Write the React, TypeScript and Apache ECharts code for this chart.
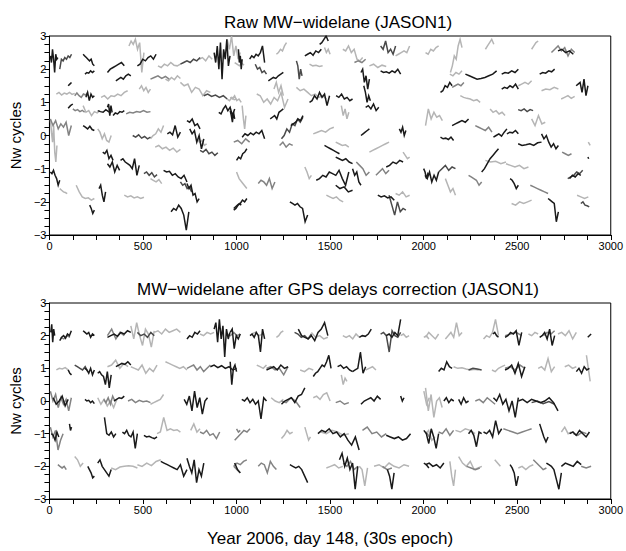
import React, { useEffect, useRef } from "react";
import * as echarts from "echarts";

// Segment: [start epoch, end epoch, shade index, values sampled evenly across the segment]
type Seg = [number, number, number, number[]];

const shades = ["#1a1a1a", "#4a4a4a", "#838383", "#b5b5b5"];

const xTicks = [0, 500, 1000, 1500, 2000, 2500, 3000];
const yTicks = [-3, -2, -1, 0, 1, 2, 3];

const titleRaw = "Raw MW\u2212widelane (JASON1)";
const titleCorr = "MW\u2212widelane after GPS delays correction (JASON1)";
const yName = "Nw cycles";
const xName = "Year 2006, day 148, (30s epoch)";

const rawSegs: Seg[] = [
  [5, 45, 0, [2.4, 2.2, 2.6, 2.3, 1.9, 2.45, 2.3, 2.35]],
  [55, 118, 1, [2.0, 2.3, 2.25, 2.35, 2.3, 2.4, 2.35, 2.45]],
  [180, 240, 0, [2.45, 2.4, 2.35, 2.3, 2.25, 2.3, 2.15, 2.1]],
  [190, 240, 0, [1.85, 1.9, 1.88, 1.95, 1.9, 1.95]],
  [100, 118, 0, [1.5, 1.55, 1.6]],
  [37, 135, 3, [1.25, 1.3, 1.22, 1.28, 1.25, 1.3, 1.24, 1.27]],
  [135, 205, 2, [1.2, 1.28, 1.2, 1.15, 1.25, 1.22, 1.3]],
  [195, 240, 0, [1.15, 1.3, 1.05, 1.25, 1.15, 1.2]],
  [276, 418, 3, [1.15, 1.2, 1.1, 1.2, 1.18, 1.25, 1.2, 1.3, 1.35]],
  [310, 335, 0, [0.85, 0.95, 0.6, 0.9, 0.7]],
  [100, 125, 0, [0.82, 0.9, 0.95]],
  [125, 188, 2, [0.8, 0.75, 0.78, 0.72, 0.76, 0.7]],
  [180, 270, 3, [0.9, 0.7, 0.75, 0.6, 0.72, 0.68, 0.75]],
  [258, 330, 0, [0.75, 0.72, 0.7, 0.78, 0.72, 0.68]],
  [340, 400, 0, [0.6, 0.68, 0.65, 0.72, 0.7, 0.75]],
  [410, 540, 2, [0.65, 0.7, 0.68, 0.72, 0.7, 0.75, 0.7, 0.72]],
  [5, 117, 2, [0.5, 0.3, 0.45, 0.2, 0.35, 0.25, 0.4, 0.0, 0.3]],
  [5, 40, 3, [0.5, 0.1, -0.2, 0.3, -0.5, -0.8, -0.3]],
  [5, 55, 0, [-1.1, -1.15, -1.05, -1.2, -1.3, -1.5, -1.35]],
  [55, 95, 3, [-1.6, -1.65, -1.7, -1.72, -1.75]],
  [180, 240, 0, [0.3, 0.25, 0.2, 0.28, 0.18, 0.15]],
  [258, 330, 3, [0.2, 0.1, -0.1, 0.05, -0.15, -0.2, 0.0]],
  [285, 340, 0, [-0.5, -0.55, -0.45, -0.7, -0.6, -0.75]],
  [445, 540, 1, [0.0, -0.05, 0.02, -0.08, -0.03, -0.1, -0.05]],
  [540, 610, 3, [-0.1, 0.0, 0.05, 0.2, 0.1, 0.3]],
  [565, 700, 3, [-0.35, -0.3, -0.4, -0.35, -0.45, -0.38, -0.5, -0.42]],
  [630, 700, 0, [0.05, 0.1, 0.02, 0.3, -0.05, 0.1]],
  [735, 805, 0, [0.45, 0.4, 0.5, 0.3, 0.35, 0.2]],
  [750, 825, 0, [0.2, 0.05, 0.15, -0.2, 0.0, -0.4, -0.1]],
  [805, 900, 1, [-0.45, -0.5, -0.42, -0.55, -0.5, -0.6, -0.52]],
  [790, 840, 3, [-0.1, -0.2, -0.15, -0.3, -0.25]],
  [905, 990, 0, [0.7, 0.65, 0.8, 0.9, 0.75, 0.85, 0.6, 0.8]],
  [380, 480, 0, [-0.75, -0.7, -0.8, -0.85, -0.9, -1.0, -0.7, -1.2, -0.9]],
  [310, 375, 0, [-0.85, -0.95, -0.8, -1.1, -0.9, -1.05]],
  [505, 575, 1, [-1.15, -1.1, -1.2, -1.12, -1.25, -1.18]],
  [540, 600, 3, [-1.3, -1.35, -1.4, -1.33, -1.45]],
  [610, 735, 0, [-1.05, -1.1, -1.08, -1.2, -1.15, -1.25, -1.3, -1.2, -1.4]],
  [735, 800, 0, [-1.45, -1.6, -1.5, -1.8, -1.75, -2.0, -1.9]],
  [700, 760, 1, [-1.4, -1.5, -1.45, -1.6, -1.55, -1.7]],
  [400, 505, 3, [-1.8, -1.85, -1.82, -1.88, -1.85, -1.9, -1.86]],
  [143, 240, 3, [-1.5, -1.7, -1.85, -1.9, -1.88, -1.95, -1.9]],
  [215, 240, 0, [-2.1, -2.2, -2.35, -2.25]],
  [265, 300, 0, [-1.6, -1.5, -1.8, -2.0, -1.7]],
  [650, 745, 0, [-2.3, -2.2, -2.25, -2.1, -2.2, -2.4, -2.85, -2.3]],
  [985, 1025, 0, [-2.2, -2.15, -2.1, -2.05, -2.1]],
  [425, 505, 3, [2.7, 2.85, 2.75, 2.9, 2.6, 2.8, 1.9, 2.5]],
  [470, 570, 0, [2.1, 2.15, 2.3, 2.25, 2.35, 2.4, 2.3, 2.45]],
  [310, 400, 0, [1.9, 2.0, 2.05, 2.1, 2.15, 2.2, 2.1]],
  [355, 435, 0, [1.65, 1.7, 1.75, 1.7, 1.8, 1.85, 1.8]],
  [580, 700, 3, [2.1, 2.05, 2.15, 2.1, 2.2, 2.12, 2.1, 2.15]],
  [620, 700, 3, [1.7, 1.65, 1.75, 1.68, 1.8, 1.72]],
  [700, 805, 1, [2.15, 2.2, 2.25, 2.2, 2.3, 2.25, 2.35]],
  [800, 870, 3, [2.3, 2.35, 2.25, 2.4, 2.3]],
  [880, 965, 0, [2.5, 2.2, 2.7, 2.0, 2.8, 1.7, 2.6, 2.3, 2.9, 2.1, 2.4]],
  [950, 1020, 3, [2.9, 2.6, 3.0, 2.4, 2.7, 2.3, 2.5]],
  [700, 860, 3, [1.6, 1.5, 1.55, 1.3, 1.45, 1.4, 1.2, 1.35, 1.3]],
  [825, 950, 1, [1.2, 1.25, 1.18, 1.22, 1.15, 1.2, 1.1]],
  [950, 1000, 3, [1.1, 1.05, 1.15, 1.08, 1.1]],
  [540, 640, 2, [1.7, 1.75, 1.8, 1.72, 1.78, 1.7]],
  [480, 540, 3, [1.4, 1.5, 1.35, 1.45, 1.3, 1.4]],
  [1010, 1030, 0, [2.6, 2.2, 2.4, 2.0, 2.3]],
  [990, 1040, 3, [2.2, 2.15, 2.1, 2.18, 2.12]],
  [1070, 1150, 0, [2.3, 2.4, 2.35, 2.45, 2.4, 2.5, 2.7, 2.2]],
  [1100, 1160, 1, [2.15, 2.0, 2.05, 1.9, 1.95, 1.85]],
  [1213, 1267, 3, [2.45, 2.5, 2.6, 2.55, 2.7, 2.8]],
  [1170, 1250, 0, [1.65, 1.7, 1.75, 1.72, 1.8, 1.85, 1.9]],
  [1320, 1350, 1, [2.25, 2.1, 1.7, 2.0, 1.8]],
  [1365, 1453, 0, [2.4, 2.45, 2.5, 2.42, 2.55, 2.5, 2.6]],
  [1444, 1490, 0, [2.75, 2.8, 2.9, 3.0, 2.85]],
  [1470, 1500, 3, [2.65, 2.5, 2.6, 2.45]],
  [1390, 1460, 3, [2.15, 2.1, 2.12, 2.08, 2.1]],
  [1568, 1674, 3, [2.6, 2.55, 2.7, 2.5, 2.6, 2.3, 2.25, 2.35]],
  [1630, 1690, 2, [2.2, 2.25, 2.2, 2.3]],
  [1770, 1850, 1, [2.7, 2.6, 2.85, 2.5, 2.6, 2.45, 2.7]],
  [1850, 1925, 3, [2.4, 2.45, 2.5, 2.55, 2.5, 2.7]],
  [1710, 1800, 3, [2.1, 2.15, 2.05, 2.12, 2.08]],
  [1770, 1877, 0, [1.95, 1.9, 1.92, 1.88, 1.95, 1.9, 2.0, 1.85]],
  [1665, 1710, 0, [1.9, 2.0, 1.6, 1.8, 1.4, 1.7]],
  [966, 1025, 3, [1.15, 1.1, 1.2, 1.05, 1.1, 1.0]],
  [1108, 1275, 3, [1.25, 1.2, 1.0, 1.1, 0.95, 1.15, 1.05, 1.3, 0.85, 1.1]],
  [1200, 1250, 3, [1.4, 1.6, 1.3, 1.5, 1.2]],
  [1320, 1480, 3, [1.45, 1.35, 1.4, 1.3, 1.2, 1.25, 1.15, 1.2, 1.1]],
  [1390, 1497, 0, [1.0, 1.05, 1.2, 1.1, 1.3, 1.15, 1.25, 0.9, 1.2]],
  [1532, 1620, 0, [1.2, 1.15, 1.25, 1.1, 1.15, 1.05, 1.1]],
  [1560, 1600, 3, [0.9, 0.6, 0.8, 0.5, 0.7]],
  [1680, 1715, 0, [1.5, 1.3, 1.0, 1.2, 1.05]],
  [1690, 1760, 0, [0.85, 0.9, 0.8, 0.95, 0.75, 0.85]],
  [966, 990, 0, [0.75, 0.6, 0.4, 0.7, 0.5]],
  [1180, 1250, 0, [0.5, 0.55, 0.6, 0.5, 0.7, 0.75, 0.8]],
  [1030, 1050, 3, [0.9, 0.5, 0.2, 0.6]],
  [1030, 1150, 0, [-0.05, 0.05, 0.0, 0.08, 0.02, 0.1, 0.05, 0.15, -0.1]],
  [985, 1070, 2, [-0.2, -0.15, -0.25, -0.1, -0.2]],
  [1000, 1055, 0, [-0.75, -0.65, -0.7, -0.55, -0.5, -0.4]],
  [1240, 1355, 1, [-0.1, 0.0, 0.2, 0.1, 0.35, 0.3, 0.5, 0.4, 0.55]],
  [1290, 1355, 0, [0.3, 0.35, 0.4, 0.5, 0.45, 0.6]],
  [1230, 1300, 2, [-0.3, -0.2, -0.35, -0.25, -0.3]],
  [1410, 1520, 3, [0.05, 0.1, 0.15, 0.1, 0.2, 0.25]],
  [1470, 1550, 0, [-0.3, -0.35, -0.4, -0.45, -0.5, -0.55]],
  [1530, 1620, 0, [-0.65, -0.7, -0.75, -0.7, -0.8, -0.85]],
  [1530, 1600, 3, [-0.2, -0.25, -0.3, -0.28, -0.35]],
  [1665, 1710, 0, [0.0, 0.05, 0.1, 0.15, 0.2]],
  [1710, 1815, 3, [-0.5, -0.45, -0.4, -0.35, -0.3, -0.25, -0.2]],
  [1870, 1905, 0, [0.2, 0.1, 0.25, 0.0, 0.15]],
  [1800, 1890, 0, [-0.95, -0.9, -0.8, -0.85, -0.75, -0.8]],
  [1745, 1815, 2, [-1.2, -1.1, -1.0, -1.15, -1.05]],
  [1890, 1925, 3, [-0.5, -0.6, -0.7, -0.65]],
  [1426, 1600, 0, [-1.35, -1.3, -1.2, -1.25, -1.1, -1.15, -1.2, -1.05, -1.3, -1.5, -1.1]],
  [1620, 1665, 0, [-1.0, -1.2, -1.1, -1.4, -1.5]],
  [1640, 1710, 2, [-0.8, -0.9, -1.0, -1.2, -1.1]],
  [1365, 1400, 3, [-0.95, -1.1, -1.3, -1.2]],
  [1116, 1205, 2, [-1.45, -1.35, -1.4, -1.5, -1.3, -1.6, -1.4]],
  [1000, 1055, 3, [-1.1, -1.3, -1.4, -1.5, -1.6]],
  [985, 1055, 0, [-2.25, -2.2, -2.1, -2.05, -1.95, -2.0, -1.9]],
  [1285, 1380, 0, [-2.0, -2.05, -2.1, -2.05, -2.15, -2.2, -2.6, -2.4]],
  [1530, 1620, 0, [-1.5, -1.6, -1.55, -1.7, -1.65]],
  [1480, 1570, 3, [-1.8, -1.85, -1.9, -1.85, -1.95, -2.0]],
  [1755, 1843, 0, [-1.8, -1.85, -1.82, -1.88, -1.85, -1.95]],
  [1815, 1905, 1, [-1.8, -2.1, -2.4, -2.0, -2.3, -2.2, -2.25]],
  [1850, 1925, 3, [-1.75, -1.8, -1.7, -1.85, -1.8]],
  [2000, 2030, 0, [-1.0, -1.1, -1.3, -1.15, -1.2]],
  [2010, 2080, 3, [2.5, 2.45, 2.6, 2.55, 2.65, 2.7]],
  [2143, 2205, 3, [1.9, 2.1, 2.4, 2.3, 2.7, 2.9, 2.65]],
  [2330, 2375, 3, [2.6, 2.7, 2.8, 2.9, 2.75]],
  [2577, 2612, 3, [2.6, 2.7, 2.8, 2.85]],
  [2683, 2807, 2, [2.5, 2.6, 2.7, 2.55, 2.65, 2.4, 2.6, 2.5]],
  [2718, 2800, 0, [2.55, 2.6, 2.5, 2.55, 2.45]],
  [2223, 2390, 0, [1.85, 1.8, 1.75, 1.7, 1.72, 1.75, 1.8, 1.85, 1.95]],
  [2417, 2506, 0, [1.85, 1.9, 1.88, 1.95, 1.9, 2.0]],
  [2620, 2700, 0, [1.85, 1.9, 1.88, 1.95, 1.92, 2.0]],
  [2140, 2205, 3, [1.85, 1.8, 1.9, 1.85, 1.95]],
  [2090, 2152, 0, [1.3, 1.35, 1.5, 1.45, 1.6, 1.5]],
  [2152, 2215, 2, [1.45, 1.5, 1.55, 1.5, 1.6]],
  [2196, 2302, 3, [1.2, 1.15, 1.12, 1.1, 1.05, 1.08, 1.0]],
  [2417, 2506, 0, [1.4, 1.45, 1.42, 1.5, 1.45, 1.55, 1.4]],
  [2506, 2577, 3, [1.5, 1.55, 1.6, 1.55, 1.65]],
  [2630, 2720, 3, [1.35, 1.4, 1.38, 1.45, 1.4]],
  [2735, 2807, 3, [1.1, 1.15, 1.2, 1.12, 1.18]],
  [2815, 2878, 0, [1.5, 1.55, 1.6, 1.3, 1.7, 1.2, 1.5]],
  [2010, 2100, 3, [0.3, 0.8, 0.5, 0.7, 0.55, 0.6, 0.45]],
  [2090, 2160, 0, [-0.05, -0.1, -0.08, -0.12, -0.05, -0.15]],
  [2152, 2240, 0, [0.3, 0.35, 0.4, 0.45, 0.4, 0.5]],
  [2276, 2365, 2, [0.3, 0.25, 0.2, 0.15, 0.25, 0.1]],
  [2355, 2435, 3, [0.8, 0.7, 0.75, 0.65, 0.7, 0.6]],
  [2373, 2445, 0, [-0.05, 0.0, 0.05, -0.02, 0.1, 0.2]],
  [2445, 2506, 0, [0.05, 0.1, 0.08, 0.15, 0.05]],
  [2505, 2585, 1, [0.78, 0.75, 0.8, 0.72, 0.78, 0.75]],
  [2577, 2650, 3, [0.5, 0.3, 0.6, 0.35, 0.4]],
  [2505, 2630, 0, [-0.25, -0.3, -0.28, -0.25, -0.3, -0.22, -0.2]],
  [2630, 2720, 0, [0.05, -0.1, 0.0, -0.2, -0.35, -0.25, -0.4, -0.3]],
  [2740, 2790, 2, [-0.5, -0.55, -0.6, -0.55]],
  [2880, 2890, 3, [-0.2, -0.3]],
  [2007, 2080, 0, [-1.2, -1.3, -1.1, -1.4, -1.2, -1.35, -1.1]],
  [2080, 2170, 1, [-1.1, -1.0, -0.9, -1.05, -0.95, -1.0]],
  [2116, 2170, 3, [-1.3, -1.5, -1.7, -1.6, -1.8]],
  [2310, 2400, 0, [-1.1, -1.0, -0.85, -0.7, -0.6, -0.5, -0.4]],
  [2240, 2310, 2, [-1.2, -1.25, -1.3, -1.35, -1.5, -1.4]],
  [2330, 2440, 3, [-0.75, -0.8, -0.78, -0.85, -0.8]],
  [2440, 2560, 3, [-0.85, -0.9, -0.95, -0.9, -1.0, -0.95]],
  [2462, 2506, 0, [-1.3, -1.35, -1.45, -1.6, -1.5]],
  [2470, 2577, 3, [-2.05, -2.1, -2.0, -2.05, -2.0, -1.95]],
  [2665, 2720, 0, [-1.9, -1.95, -2.0, -2.05, -2.6, -2.3]],
  [2570, 2665, 2, [-1.5, -1.55, -1.6, -1.65, -1.7, -1.75]],
  [2770, 2850, 1, [-1.3, -1.25, -1.2, -1.1, -1.15, -1.05]],
  [2780, 2840, 0, [-1.3, -1.2, -1.25, -1.15, -1.2]],
  [2820, 2880, 3, [-1.8, -1.85, -1.9, -1.85]],
  [2840, 2885, 1, [-2.05, -2.0, -2.1, -2.12, -2.15]],
  [2878, 2882, 0, [-0.65, -0.7]],
];

const corrSegs: Seg[] = [
  [7, 28, 0, [2.1, 2.35, 1.8, 2.2, 2.0]],
  [55, 117, 0, [1.85, 1.95, 2.0, 1.92, 2.05, 2.0, 2.15]],
  [60, 110, 2, [1.95, 1.9, 2.0, 1.95]],
  [180, 240, 0, [2.15, 2.1, 2.05, 2.1, 1.95, 2.05, 2.0]],
  [310, 435, 0, [1.95, 2.0, 2.05, 1.98, 2.1, 2.05, 2.15, 2.1]],
  [310, 400, 2, [2.0, 2.2, 1.9, 2.1, 2.0]],
  [435, 560, 3, [2.3, 1.9, 2.4, 2.0, 1.7, 2.2, 2.05, 1.65, 2.15]],
  [470, 560, 1, [2.1, 2.0, 2.05, 1.95, 2.1, 2.0]],
  [560, 700, 3, [2.1, 2.15, 2.05, 2.2, 2.1, 2.15, 2.2, 2.1]],
  [735, 805, 0, [1.9, 2.0, 1.95, 2.1, 2.05, 2.15]],
  [805, 880, 3, [2.05, 2.0, 2.1, 2.05, 2.1]],
  [880, 965, 0, [2.2, 2.4, 1.8, 2.5, 1.9, 2.3, 1.35, 2.2, 1.9, 2.1]],
  [950, 1020, 2, [2.05, 2.0, 2.1, 2.0, 2.05]],
  [37, 100, 3, [0.95, 1.0, 0.98, 1.02, 0.95]],
  [100, 118, 0, [0.95, 0.85, 0.8]],
  [135, 205, 1, [1.1, 1.05, 1.0, 0.95, 1.05, 0.9]],
  [190, 240, 0, [1.0, 0.95, 0.85, 1.0, 0.8, 0.95]],
  [258, 330, 0, [0.85, 0.9, 0.8, 0.75, 0.5, 0.9, 0.4, 0.8]],
  [355, 435, 0, [1.05, 1.1, 1.15, 1.12, 1.2, 1.1]],
  [310, 420, 3, [1.05, 1.1, 1.25, 1.0, 1.15, 1.05]],
  [435, 575, 3, [1.05, 1.0, 0.95, 1.1, 0.85, 1.0, 0.9, 1.1]],
  [620, 735, 3, [1.2, 1.15, 1.1, 1.05, 1.0, 1.05, 0.95]],
  [735, 860, 2, [1.0, 1.05, 1.1, 0.95, 1.05, 0.9, 1.0, 1.1]],
  [860, 1000, 0, [1.05, 1.1, 1.02, 1.08, 1.0, 1.05, 0.95, 1.0]],
  [5, 117, 2, [0.3, 0.0, 0.2, -0.2, 0.1, -0.1, 0.05, -0.3, 0.1]],
  [20, 100, 0, [0.1, -0.1, 0.0, 0.15, -0.15, 0.05]],
  [190, 240, 0, [0.05, 0.0, 0.02, -0.05, 0.0, -0.08]],
  [258, 360, 3, [0.1, -0.1, 0.05, -0.15, 0.0, -0.2, 0.05]],
  [290, 350, 2, [0.05, -0.05, 0.1, -0.1, 0.15, 0.0]],
  [345, 400, 0, [0.0, 0.05, 0.1, 0.08, 0.15]],
  [420, 540, 2, [0.0, 0.05, -0.05, 0.02, -0.02, 0.0, -0.05]],
  [540, 610, 3, [-0.1, -0.05, 0.0, 0.05, 0.2]],
  [720, 845, 0, [0.05, -0.1, 0.15, -0.3, 0.3, -0.2, 0.1, -0.4, 0.0, 0.1]],
  [5, 73, 2, [-0.8, -1.1, -0.9, -1.5, -1.2, -1.0]],
  [10, 50, 0, [-1.0, -1.05, -1.2, -0.95, -1.1]],
  [107, 118, 0, [-0.7, -0.9, -0.8]],
  [294, 355, 0, [-0.5, -1.0, -1.05, -0.95, -1.1, -1.0]],
  [390, 470, 0, [-0.95, -1.0, -0.9, -1.05, -1.1, -0.95, -1.45, -1.0]],
  [505, 575, 0, [-1.05, -1.1, -1.08, -1.12, -1.15, -1.1]],
  [575, 700, 3, [-1.0, -0.95, -0.5, -0.9, -0.85, -0.9, -0.88, -0.95]],
  [755, 805, 3, [-0.9, -0.7, -0.95, -0.85]],
  [805, 910, 2, [-0.95, -1.0, -0.9, -1.05, -1.0, -1.15, -0.95]],
  [1000, 1020, 2, [-0.85, -0.95, -0.9]],
  [45, 90, 2, [-1.95, -2.0, -2.05, -2.0, -2.1]],
  [135, 180, 3, [-1.7, -1.8, -2.0, -1.9]],
  [205, 240, 0, [-2.0, -2.1, -2.2, -2.35, -2.3]],
  [258, 330, 0, [-1.9, -1.8, -2.0, -2.1, -2.2, -2.3, -2.1]],
  [330, 470, 3, [-2.05, -2.1, -2.02, -2.0, -1.98, -2.0, -2.05]],
  [470, 595, 3, [-1.95, -2.0, -1.9, -1.98, -1.85, -1.8]],
  [595, 735, 0, [-1.85, -1.9, -1.95, -2.0, -2.05, -2.1, -1.95, -2.3, -2.1]],
  [735, 825, 0, [-1.75, -2.0, -2.2, -1.8, -2.5, -2.1, -2.3, -1.9]],
  [985, 1020, 2, [-2.0, -2.1, -2.2]],
  [966, 1020, 0, [2.1, 2.2, 1.6, 2.0, 1.9, 2.05]],
  [1072, 1150, 0, [2.0, 2.05, 1.95, 2.1, 2.0, 1.5, 2.2, 1.9]],
  [1080, 1140, 3, [2.05, 2.1, 2.0, 2.05]],
  [1213, 1250, 3, [1.95, 2.0, 2.1, 2.15]],
  [1310, 1400, 1, [2.1, 2.05, 1.95, 2.0, 1.9, 2.05]],
  [1330, 1488, 0, [2.2, 2.0, 1.95, 1.9, 2.0, 1.85, 2.1, 2.2, 2.4, 2.0]],
  [1400, 1488, 3, [2.1, 1.95, 2.0, 1.9, 1.95]],
  [1568, 1656, 3, [2.0, 1.95, 2.0, 1.9, 2.05, 1.95]],
  [1656, 1720, 0, [1.95, 2.0, 1.98, 2.05, 2.2]],
  [1770, 1877, 1, [2.05, 2.1, 2.0, 1.5, 2.15, 2.0, 1.95, 2.1]],
  [1800, 1877, 0, [2.0, 2.05, 1.95, 2.1, 2.0, 2.5]],
  [1877, 1922, 3, [2.0, 2.05, 1.95, 2.0]],
  [2001, 2028, 3, [1.95, 2.0, 1.9]],
  [966, 1000, 0, [1.2, 0.5, 1.0, 1.1, 0.9]],
  [1108, 1160, 3, [1.1, 1.05, 1.0, 1.1]],
  [1160, 1275, 0, [0.95, 1.0, 1.05, 0.95, 1.1, 1.0, 1.05]],
  [1160, 1275, 2, [1.0, 1.05, 0.95, 1.0, 0.8, 1.05]],
  [1340, 1410, 3, [0.95, 0.9, 1.0, 0.95]],
  [1410, 1505, 0, [0.75, 0.85, 0.9, 1.0, 1.1, 1.05, 1.2, 1.4, 1.0]],
  [1540, 1620, 0, [1.05, 1.1, 1.0, 1.05, 0.95, 0.9]],
  [1560, 1590, 3, [0.8, 0.5, 0.7, 0.6]],
  [1620, 1690, 0, [0.9, 0.95, 1.0, 1.5, 0.85, 1.05]],
  [1690, 1745, 3, [0.95, 1.0, 1.05, 0.95]],
  [1028, 1160, 0, [0.05, 0.0, 0.1, -0.05, 0.05, -0.1, 0.0, -0.55, 0.1, 0.0]],
  [1185, 1250, 3, [0.1, 0.0, -0.05, 0.05]],
  [1240, 1365, 0, [-0.1, 0.0, 0.05, 0.1, -0.05, 0.15, 0.2, 0.4]],
  [1240, 1340, 2, [0.0, -0.05, 0.1, 0.0, -0.2]],
  [1410, 1500, 3, [0.1, 0.15, 0.05, 0.2, 0.25, 0.0]],
  [1530, 1600, 2, [-0.05, 0.0, -0.1, -0.05]],
  [1665, 1770, 0, [-0.1, 0.0, 0.05, 0.1, 0.0, 0.15, 0.05]],
  [1877, 1895, 0, [0.15, 0.0, 0.1]],
  [2001, 2030, 3, [0.3, -0.1, 0.1]],
  [990, 1072, 2, [-1.2, -1.1, -1.0, -0.9, -0.95, -0.85]],
  [1240, 1300, 3, [-1.15, -1.05, -0.9, -1.0, -0.95]],
  [1365, 1395, 3, [-0.8, -1.0, -1.2, -1.1]],
  [1435, 1655, 0, [-1.0, -0.9, -0.95, -0.85, -1.0, -0.95, -1.1, -1.0, -1.2, -1.35, -1.1, -1.5]],
  [1450, 1600, 3, [-0.95, -1.0, -0.9, -0.95, -1.05, -1.0]],
  [1673, 1800, 2, [-0.9, -0.8, -1.0, -0.95, -1.1, -1.0]],
  [1800, 1930, 0, [-1.05, -1.1, -1.15, -1.1, -1.2, -1.15, -1.0]],
  [2010, 2030, 2, [-0.95, -1.0, -1.1]],
  [985, 1055, 2, [-2.0, -1.9, -1.95, -1.85, -1.8]],
  [990, 1020, 0, [-1.9, -2.1, -2.2]],
  [1116, 1213, 2, [-2.0, -1.9, -1.95, -2.2, -1.85, -2.0, -2.1]],
  [1285, 1380, 0, [-1.95, -2.0, -2.05, -2.0, -2.1, -2.3, -2.5]],
  [1480, 1568, 3, [-2.05, -2.0, -1.95, -2.05, -2.0]],
  [1550, 1648, 0, [-1.8, -1.6, -2.0, -1.75, -2.1, -1.9, -2.7, -2.0]],
  [1570, 1648, 2, [-1.9, -2.0, -1.85, -2.1, -2.0]],
  [1656, 1700, 3, [-2.0, -2.1, -2.6, -2.05]],
  [1735, 1922, 3, [-2.0, -1.95, -2.05, -1.9, -2.0, -2.05, -1.95, -2.0]],
  [1806, 1842, 0, [-2.1, -2.3, -2.7, -2.2]],
  [1780, 1830, 2, [-2.0, -2.1, -2.05]],
  [2001, 2028, 0, [-1.9, -1.95, -2.05]],
  [2010, 2080, 3, [1.95, 2.1, 2.0, 1.9, 2.05]],
  [2116, 2205, 3, [1.9, 2.0, 2.1, 1.95, 2.4, 2.0, 2.1]],
  [2320, 2400, 3, [1.9, 2.0, 1.95, 2.1, 2.5, 2.0]],
  [2370, 2400, 0, [2.05, 2.1, 2.0, 1.95]],
  [2435, 2524, 0, [1.95, 2.0, 2.1, 2.05, 2.15, 1.7, 2.1]],
  [2435, 2524, 2, [2.0, 2.05, 2.1, 2.0]],
  [2560, 2612, 3, [2.05, 2.0, 2.1, 2.05]],
  [2620, 2700, 0, [1.95, 2.0, 2.1, 1.9, 2.2, 1.7, 2.0]],
  [2640, 2700, 2, [2.0, 2.1, 2.05, 2.15]],
  [2718, 2816, 3, [2.05, 2.1, 2.0, 2.15, 1.9, 2.1]],
  [2877, 2895, 0, [1.95, 2.05]],
  [2080, 2152, 0, [0.9, 1.0, 0.95, 1.2, 1.05, 1.0]],
  [2160, 2294, 3, [1.05, 1.0, 1.02, 0.98, 0.95, 0.97, 0.95]],
  [2240, 2310, 1, [0.95, 1.0, 0.98, 0.95]],
  [2365, 2435, 3, [0.95, 0.9, 1.0, 1.05, 1.1]],
  [2435, 2541, 0, [0.95, 1.0, 1.1, 0.85, 1.15, 0.75, 1.05]],
  [2435, 2541, 2, [1.0, 1.05, 0.95, 1.1, 1.0]],
  [2612, 2700, 3, [1.0, 1.05, 0.95, 1.3, 0.9, 1.05]],
  [2754, 2816, 3, [1.05, 1.1, 1.0, 1.05]],
  [2816, 2886, 0, [0.9, 1.0, 0.85, 1.05, 0.95, 1.0]],
  [2870, 2890, 3, [1.4, 1.0, 0.6]],
  [2010, 2099, 3, [0.4, -0.3, 0.2, -0.5, 0.0, 0.1, -0.2]],
  [2108, 2161, 0, [0.0, 0.1, -0.05, 0.05, 0.0]],
  [2187, 2240, 0, [0.05, -0.1, 0.1, -0.05, 0.0]],
  [2276, 2382, 2, [0.0, 0.05, -0.05, 0.1, 0.0, -0.1]],
  [2373, 2506, 0, [0.1, 0.0, 0.2, -0.1, 0.05, -0.3, 0.0, -0.5, 0.1]],
  [2506, 2718, 0, [0.0, 0.05, -0.05, 0.05, 0.0, -0.05, 0.0, 0.1, -0.05, -0.3]],
  [2577, 2700, 1, [-0.05, 0.0, -0.08, -0.02, -0.1]],
  [2001, 2080, 0, [-0.9, -1.0, -1.3, -0.85, -1.1, -1.45, -1.0]],
  [2010, 2060, 3, [-1.0, -0.9, -1.2, -1.1]],
  [2080, 2160, 2, [-0.95, -1.0, -0.85, -1.05, -0.9]],
  [2170, 2275, 3, [-0.9, -0.95, -0.85, -0.9, -1.0]],
  [2240, 2310, 0, [-1.0, -0.9, -1.05, -1.4, -0.95, -1.0]],
  [2320, 2417, 0, [-0.95, -1.0, -0.9, -1.1, -0.6, -1.0, -0.85]],
  [2426, 2577, 2, [-0.85, -0.9, -0.95, -1.0, -0.95, -0.9, -0.85]],
  [2620, 2665, 0, [-0.7, -0.9, -1.1, -1.25, -1.1]],
  [2736, 2790, 3, [-0.95, -0.8, -1.0, -0.95]],
  [2780, 2886, 0, [-1.0, -0.95, -1.05, -0.9, -1.0, -1.1, -0.95]],
  [2800, 2870, 2, [-1.0, -1.05, -0.95, -1.0]],
  [2010, 2108, 0, [-1.95, -1.9, -2.0, -1.95, -2.05, -1.9]],
  [2140, 2170, 3, [-1.85, -2.3, -2.6, -2.1]],
  [2187, 2311, 3, [-1.7, -1.9, -2.0, -1.85, -2.1, -2.05, -2.0]],
  [2230, 2300, 2, [-2.0, -2.05, -2.1, -2.05]],
  [2380, 2410, 3, [-1.8, -1.9, -2.0]],
  [2462, 2506, 0, [-1.95, -2.05, -2.2, -2.6, -2.3]],
  [2506, 2586, 3, [-2.05, -2.0, -2.1, -2.0, -1.95]],
  [2586, 2656, 2, [-1.8, -1.9, -2.0, -2.1, -2.05]],
  [2656, 2736, 0, [-1.9, -1.95, -2.0, -2.1, -2.4, -2.7, -2.2]],
  [2736, 2842, 0, [-2.0, -1.9, -1.95, -2.0, -1.85, -1.95]],
  [2842, 2895, 2, [-2.0, -2.05, -2.0]],
];

const FONT = "'Liberation Sans', Arial, Helvetica, sans-serif";

function segSeries(segs: Seg[], axisIndex: number) {
  const ordered = segs
    .map((s, i) => ({ s, i }))
    .sort((a, b) => b.s[2] - a.s[2] || a.i - b.i);
  return ordered.map(({ s }) => {
    const [x0, x1, shade, vals] = s;
    const n = vals.length;
    const data = vals.map((v, k) => [x0 + ((x1 - x0) * k) / Math.max(1, n - 1), v]);
    return {
      type: "line",
      xAxisIndex: axisIndex,
      yAxisIndex: axisIndex,
      data,
      showSymbol: false,
      symbol: "none",
      silent: true,
      lineStyle: { width: 1.5, color: shades[shade], join: "miter" },
      itemStyle: { color: shades[shade] },
    };
  });
}

function xAxisCfg(gridIndex: number, withName: boolean) {
  return {
    type: "value",
    gridIndex,
    min: xTicks[0],
    max: xTicks[xTicks.length - 1],
    interval: xTicks[1] - xTicks[0],
    name: withName ? xName : "",
    nameLocation: "middle",
    nameGap: 31,
    nameTextStyle: { fontFamily: FONT, fontSize: 17, color: "#000" },
    axisLine: { show: true, onZero: false, lineStyle: { color: "#000", width: 1 } },
    axisTick: { show: true, inside: false, length: 5, lineStyle: { color: "#000" } },
    minorTick: { show: true, splitNumber: 4, length: 5, lineStyle: { color: "#000" } },
    splitLine: { show: false },
    minorSplitLine: { show: false },
    axisLabel: {
      fontFamily: FONT,
      fontSize: 11,
      color: "#000",
      margin: 5,
      formatter: (v: number) => String(v),
    },
  };
}

function yAxisCfg(gridIndex: number) {
  return {
    type: "value",
    gridIndex,
    min: yTicks[0],
    max: yTicks[yTicks.length - 1],
    interval: 1,
    name: yName,
    nameLocation: "middle",
    nameGap: 21,
    nameRotate: 90,
    nameTextStyle: { fontFamily: FONT, fontSize: 15, color: "#000" },
    axisLine: { show: true, onZero: false, lineStyle: { color: "#000", width: 1 } },
    axisTick: { show: true, inside: false, length: 5, lineStyle: { color: "#000" } },
    minorTick: { show: true, splitNumber: 4, length: 5, lineStyle: { color: "#000" } },
    splitLine: { show: false },
    minorSplitLine: { show: false },
    axisLabel: {
      fontFamily: FONT,
      fontSize: 11,
      color: "#000",
      margin: 3,
      formatter: (v: number) => String(v).replace("-", "\u2212"),
    },
  };
}

export default function App() {
  const ref = useRef<HTMLDivElement>(null);
  useEffect(() => {
    if (!ref.current) return;
    const chart = echarts.init(ref.current, undefined, { renderer: "svg" });
    chart.setOption({
      animation: false,
      backgroundColor: "#fff",
      title: [
        {
          text: titleRaw,
          left: 333,
          top: 9,
          textAlign: "center",
          textStyle: { fontFamily: FONT, fontSize: 17, fontWeight: "normal", color: "#000" },
        },
        {
          text: titleCorr,
          left: 333,
          top: 276,
          textAlign: "center",
          textStyle: { fontFamily: FONT, fontSize: 17, fontWeight: "normal", color: "#000" },
        },
      ],
      grid: [
        { left: 48, right: 13, top: 36, height: 199, show: true, borderColor: "#000", borderWidth: 1, backgroundColor: "transparent" },
        { left: 48, right: 13, top: 303, height: 196, show: true, borderColor: "#000", borderWidth: 1, backgroundColor: "transparent" },
      ],
      xAxis: [xAxisCfg(0, false), xAxisCfg(1, true)],
      yAxis: [yAxisCfg(0), yAxisCfg(1)],
      series: [...segSeries(rawSegs, 0), ...segSeries(corrSegs, 1)],
    });
    return () => chart.dispose();
  }, []);
  return (
    <div
      ref={ref}
      style={{ position: "absolute", left: 0, top: 0, width: 626, height: 551, background: "#fff" }}
    />
  );
}
